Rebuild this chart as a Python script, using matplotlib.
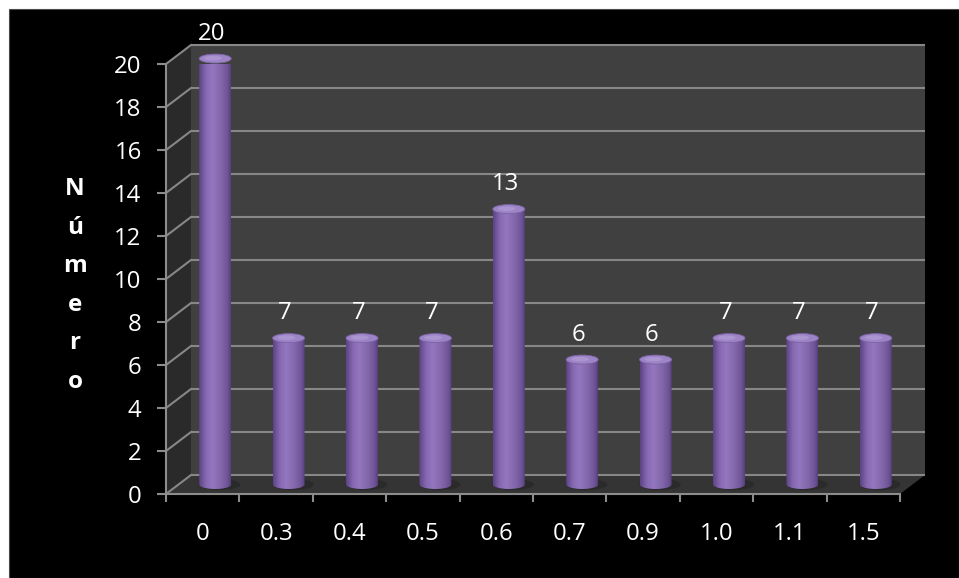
import numpy as np
import matplotlib
matplotlib.use("Agg")
import matplotlib.pyplot as plt
from matplotlib.patches import Polygon, Ellipse, PathPatch, Rectangle
from matplotlib.path import Path
from matplotlib.colors import LinearSegmentedColormap

# Data
categories = ["0", "0.3", "0.4", "0.5", "0.6", "0.7", "0.9", "1.0", "1.1", "1.5"]
counts = [20, 7, 7, 7, 13, 6, 6, 7, 7, 7]
y_ticks = list(range(0, 21, 2))
y_label = "Número"

FONT = "Open Sans"
FS = 17.3
W, H = 959, 578
fig = plt.figure(figsize=(W / 100, H / 100), dpi=100, facecolor="white")
fig.add_artist(Rectangle((9 / W, 0), (W - 9) / W, (H - 9) / H,
                         transform=fig.transFigure, facecolor="black",
                         edgecolor="#4a4a4a", lw=0.8, zorder=-10))

ax = fig.add_axes([166 / W, (H - 494) / H, 734 / W, 430 / H])
n = len(categories)
ymax = y_ticks[-1]
ax.set_xlim(0, n)
ax.set_ylim(0, ymax)
ax.patch.set_visible(False)

# depth of the pseudo-3D box, in data units
DX, DY = 25 / 73.4, 19 / 21.5

grid_c = "#878787"
# side wall, back wall, floor
ax.add_patch(Polygon([(0, 0), (DX, DY), (DX, ymax + DY), (0, ymax)],
                     closed=True, facecolor="#2a2a2a", edgecolor="none",
                     zorder=0, clip_on=False))
ax.add_patch(Polygon([(DX, DY), (n + DX, DY), (n + DX, ymax + DY), (DX, ymax + DY)],
                     closed=True, facecolor="#404040", edgecolor="none",
                     zorder=0, clip_on=False))
ax.add_patch(Polygon([(0, 0), (n, 0), (n + DX, DY), (DX, DY)],
                     closed=True, facecolor="#343434", edgecolor="none",
                     zorder=0.5, clip_on=False))

for v in y_ticks:
    ax.plot([DX, n + DX], [v + DY, v + DY], color=grid_c, lw=1.5,
            zorder=1, clip_on=False, solid_capstyle="butt")
    ax.plot([0, DX], [v, v + DY], color=grid_c, lw=1.5, zorder=1,
            clip_on=False)

# cylinders
cmap = LinearSegmentedColormap.from_list(
    "cyl", [(0.0, "#5c4383"), (0.22, "#8669b2"), (0.42, "#9477bf"),
            (0.7, "#8266aa"), (0.9, "#6d5396"), (1.0, "#563f7b")])
r = 16 / 73.4
ey = 4.5 / 21.5
yb = DY / 2
grad = np.linspace(0, 1, 256).reshape(1, -1)

for i, v in enumerate(counts):
    cx = i + 0.5 + DX / 2
    yt = v + DY / 2 - 0.19
    # soft floor shadow
    ax.add_patch(Ellipse((cx + 0.06, yb), 2 * r * 1.3, 2 * ey * 1.25,
                         facecolor="#202020", edgecolor="none", alpha=0.45,
                         zorder=1.5))
    th = np.linspace(np.pi, 2 * np.pi, 40)
    verts = [(cx - r, yt)]
    verts += [(cx + r * np.cos(t), yb + ey * np.sin(t)) for t in th]
    verts += [(cx + r, yt), (cx - r, yt)]
    codes = [Path.MOVETO] + [Path.LINETO] * (len(verts) - 2) + [Path.CLOSEPOLY]
    body = PathPatch(Path(verts, codes), facecolor="none", edgecolor="none",
                     zorder=3, clip_on=False)
    ax.add_patch(body)
    im = ax.imshow(grad, cmap=cmap, extent=[cx - r, cx + r, yb - ey, yt],
                   aspect="auto", interpolation="bilinear", zorder=3)
    im.set_clip_box(None)
    im.set_clip_path(body)
    ax.add_patch(Ellipse((cx, yt), 2 * r, 2 * ey, facecolor="#9c84c6",
                         edgecolor="#7d63a6", lw=0.6, zorder=4, clip_on=False))
    ax.add_patch(Ellipse((cx - 0.03, yt + 0.02), 2 * r * 0.55, 2 * ey * 0.5,
                         facecolor="#af9ad4", edgecolor="none", alpha=0.8,
                         zorder=4.5, clip_on=False))
    ax.text(cx - 0.05, yt + 1.15, str(v), ha="center", va="center",
            color="white", fontsize=FS, family=FONT, zorder=6)

ax.set_xlim(0, n)
ax.set_ylim(0, ymax)

# axes
for s in ("top", "right"):
    ax.spines[s].set_visible(False)
for s in ("left", "bottom"):
    ax.spines[s].set_color("#8c8c8c")
    ax.spines[s].set_linewidth(1.5)
    ax.spines[s].set_zorder(5)

ax.set_yticks(y_ticks)
ax.set_yticklabels([str(t) for t in y_ticks])
ax.tick_params(axis="y", direction="out", length=6.5, width=1.5,
               color="#8c8c8c", labelcolor="white", labelsize=FS, pad=11)
ax.set_xticks(np.arange(n + 1))
ax.set_xticklabels([])
ax.set_xticks(np.arange(n) + 0.5, minor=True)
ax.set_xticklabels(categories, minor=True)
ax.tick_params(axis="x", which="major", direction="out", length=6, width=1.5,
               color="#8c8c8c")
ax.tick_params(axis="x", which="minor", length=0, labelcolor="white",
               labelsize=FS, pad=20)
for lab in ax.get_xticklabels(minor=True) + ax.get_yticklabels():
    lab.set_family(FONT)

# stacked vertical axis title
for k, ch in enumerate(y_label):
    fig.text(75 / W, 1 - (195 + 38.6 * k) / H, ch, ha="center", va="baseline",
             color="white", fontsize=17.5, fontweight="bold", family=FONT)

fig.savefig("out.png", dpi=100, facecolor="white")
